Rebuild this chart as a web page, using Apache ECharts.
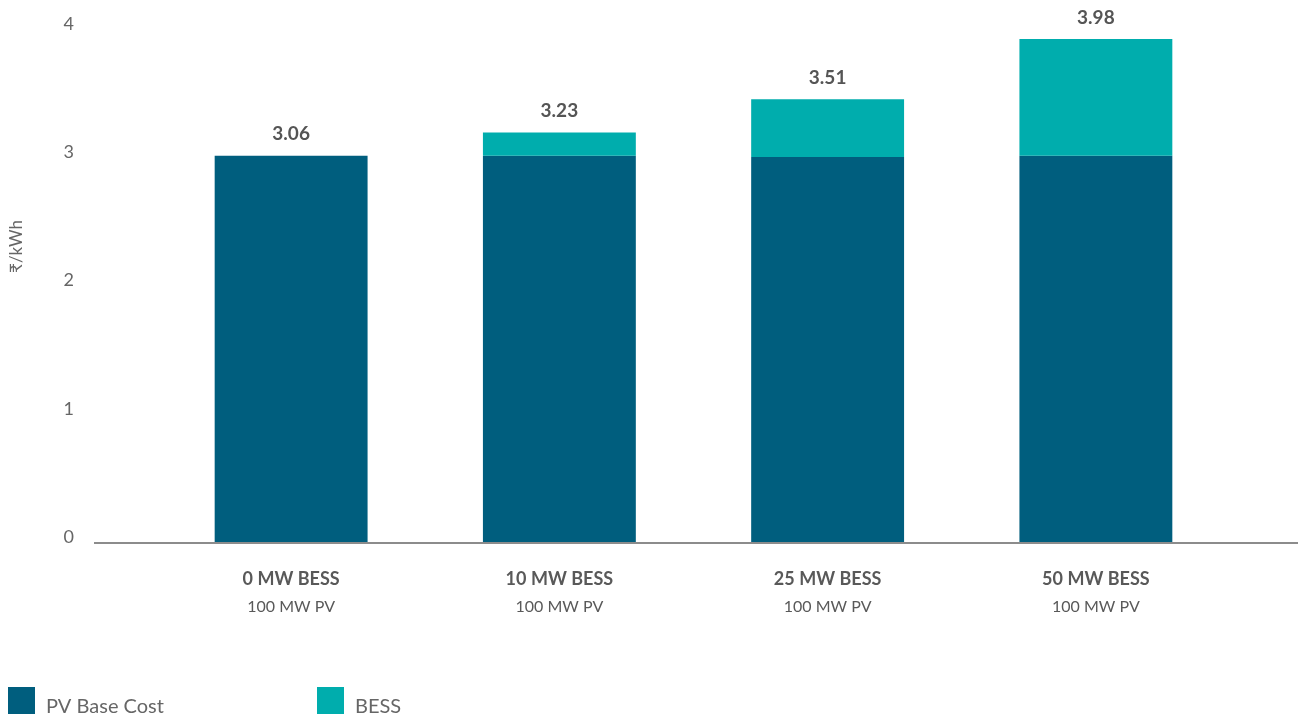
<!DOCTYPE html>
<html>
<head>
<meta charset="utf-8">
<script src="https://cdn.jsdelivr.net/npm/echarts@6/dist/echarts.min.js"></script>
<style>
html, body { margin: 0; padding: 0; background: #fff; }
#chart { width: 1298px; height: 718px; }
</style>
</head>
<body>
<div id="chart"></div>
<script>
// categories (two-line labels)
const categories = ['0 MW BESS', '10 MW BESS', '25 MW BESS', '50 MW BESS']
const subLabels = ['100 MW PV', '100 MW PV', '100 MW PV', '100 MW PV']
// stacked values
const pvBase = [3.02, 3.02, 3.01, 3.02]
const bess = [0, 0.18, 0.45, 0.91]
// totals printed above the bars
const totalLabels = ['3.06', '3.23', '3.51', '3.98']
const yTicks = [0, 1, 2, 3, 4]

const FONT = 'Lato, "Noto Sans", sans-serif'
const chart = echarts.init(document.getElementById('chart'))

const legendBase = {
    top: 687,
    padding: 0,
    icon: 'rect', itemWidth: 27, itemHeight: 27, itemGap: 12,
    formatter: function (name) { return '{t|' + name + '}' },
    textStyle: {
        fontSize: 20, color: '#666', fontFamily: FONT,
        rich: {
            t: { fontSize: 20, color: '#666', fontFamily: FONT, padding: [12, 0, 0, 6] }
        }
    }
}

chart.setOption({
    animation: false,
    textStyle: { fontFamily: FONT },
    color: ['#005E7E', '#00ADAD'],
    grid: { left: 157, right: 68, top: 30, bottom: 175 },
    legend: [
        Object.assign({ data: ['PV Base Cost'], left: 8 }, legendBase),
        Object.assign({ data: ['BESS'], left: 317 }, legendBase)
    ],
    xAxis: {
        type: 'category',
        data: categories,
        axisLine: { show: false },
        axisTick: { show: false },
        axisLabel: {
            margin: 22,
            formatter: function (v, i) {
                return '{a|' + v + '}\n{b|' + subLabels[i] + '}'
            },
            rich: {
                a: { fontSize: 18, fontWeight: 'bold', color: '#595959', lineHeight: 28, fontFamily: FONT },
                b: { fontSize: 16, color: '#595959', lineHeight: 28, fontFamily: FONT }
            }
        }
    },
    yAxis: {
        type: 'value',
        min: yTicks[0],
        max: yTicks[yTicks.length - 1],
        interval: 1,
        name: '₹/kWh',
        nameLocation: 'middle',
        nameGap: 132,
        nameTextStyle: { fontSize: 17, color: '#666', fontFamily: FONT, padding: [0, 0, 0, 80] },
        axisLine: { show: false },
        axisTick: { show: false },
        splitLine: { show: false },
        axisLabel: {
            margin: 83,
            fontSize: 18,
            color: '#666',
            verticalAlign: 'bottom',
            lineHeight: 12
        }
    },
    graphic: [
        {
            type: 'line',
            shape: { x1: 94, y1: 543, x2: 1298, y2: 543 },
            style: { stroke: '#8c8c8c', lineWidth: 2 },
            z: 10
        }
    ],
    series: [
        {
            name: 'PV Base Cost',
            type: 'bar',
            stack: 'total',
            barWidth: '57%',
            data: pvBase
        },
        {
            name: 'BESS',
            type: 'bar',
            stack: 'total',
            data: bess,
            label: {
                show: true,
                position: 'top',
                distance: 12,
                fontSize: 19,
                fontWeight: 'bold',
                color: '#555',
                formatter: function (p) { return totalLabels[p.dataIndex] }
            }
        }
    ]
})
</script>
</body>
</html>
